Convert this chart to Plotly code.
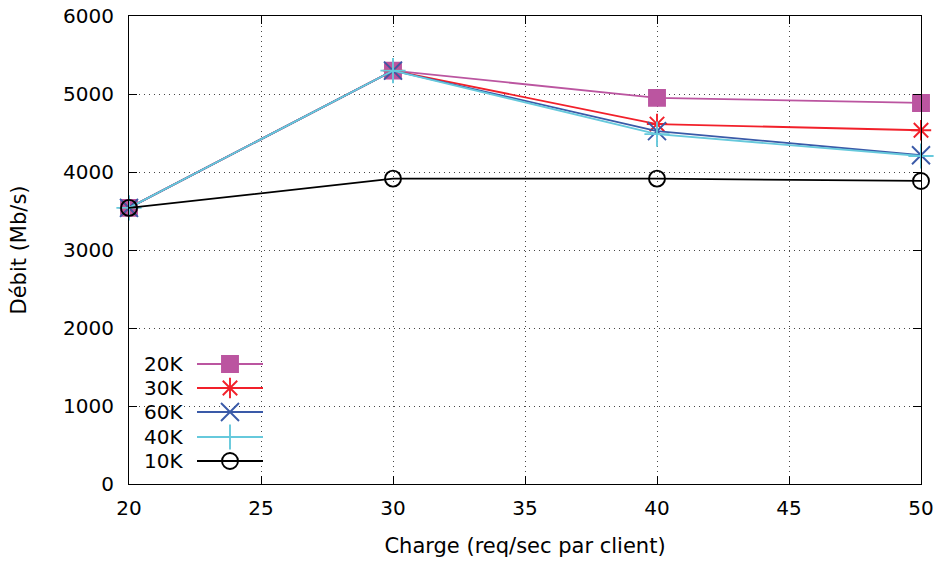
import plotly.graph_objects as go

charge = [20, 30, 40, 50]
s20k = [3540, 5300, 4950, 4885]
s30k = [3540, 5300, 4615, 4535]
s60k = [3540, 5300, 4525, 4215]
s40k = [3540, 5300, 4485, 4205]
s10k = [3540, 3915, 3915, 3885]

names = ["20K", "30K", "60K", "40K", "10K"]
values = [s20k, s30k, s60k, s40k, s10k]
colors = ["#bb55a0", "#f2202a", "#3a5aa8", "#66c9dc", "#000000"]
symbols = ["square", "asterisk-open", "x-thin-open", "cross-thin-open", "circle-open"]
sizes = [16, 17, 18, 18, 16]

x_ticks = [20, 25, 30, 35, 40, 45, 50]
y_ticks = [0, 1000, 2000, 3000, 4000, 5000, 6000]

FONT = "DejaVu Sans"
FS = 20
FT = 21
LW = 1.8
fig = go.Figure()
for n, v, c, s, sz in zip(names, values, colors, symbols, sizes):
    fig.add_trace(go.Scatter(
        x=charge, y=v, name=n, mode="lines+markers",
        line=dict(color=c, width=LW),
        marker=dict(symbol=s, size=sz, color=c, opacity=1, line=dict(color=c, width=1.9)),
        cliponaxis=False, showlegend=False))

# manual gnuplot-style legend (text left, sample right), in pixel coords of overlay axes
row_y = [364, 388, 412, 437, 461]
for n, c, s, sz, ry in zip(names, colors, symbols, sizes, row_y):
    fig.add_trace(go.Scatter(
        x=[197, 263], y=[ry, ry], mode="lines",
        xaxis="x2", yaxis="y2",
        line=dict(color=c, width=LW),
        showlegend=False, hoverinfo="skip", cliponaxis=False))
    fig.add_trace(go.Scatter(
        x=[230], y=[ry], mode="markers",
        xaxis="x2", yaxis="y2",
        marker=dict(symbol=s, size=sz, color=c, opacity=1, line=dict(color=c, width=1.9)),
        showlegend=False, hoverinfo="skip", cliponaxis=False))
    fig.add_annotation(x=185, y=ry, xref="x2", yref="y2", text=n, showarrow=False,
                       xanchor="right", yanchor="middle",
                       font=dict(family=FONT, size=FS, color="black"))

axis_common = dict(
    showline=True, linecolor="black", linewidth=1.2, mirror="ticks",
    ticks="inside", ticklen=8, tickcolor="black", tickwidth=1,
    showgrid=True, gridcolor="rgba(50,50,50,0.9)", gridwidth=1, griddash="1px,4px",
    zeroline=False, tickfont=dict(family=FONT, size=FS, color="black"),
    automargin=False,
)

fig.update_layout(
    width=943, height=564, autosize=False,
    margin=dict(l=129, r=22, t=16, b=80, autoexpand=False),
    plot_bgcolor="white", paper_bgcolor="white",
    font=dict(family=FONT, size=FS, color="black"),
    xaxis=dict(range=[20, 50], tickvals=x_ticks, ticktext=[str(t) for t in x_ticks],
               ticklabelstandoff=6,
               title=dict(text="Charge (req/sec par client)", font=dict(family=FONT, size=FT), standoff=19),
               **axis_common),
    yaxis=dict(range=[0, 6000], tickvals=y_ticks, ticktext=[str(t) for t in y_ticks],
               ticklabelstandoff=10,
               title=dict(text="Débit (Mb/s)", font=dict(family=FONT, size=FT), standoff=30),
               **axis_common),
    xaxis2=dict(overlaying="x", range=[129, 921], visible=False, fixedrange=True),
    yaxis2=dict(overlaying="y", range=[484, 16], visible=False, fixedrange=True),
)

fig.write_html("out.html",
               config={"displayModeBar": False},
               post_script="document.body.style.margin='0';document.body.style.overflow='hidden';")
